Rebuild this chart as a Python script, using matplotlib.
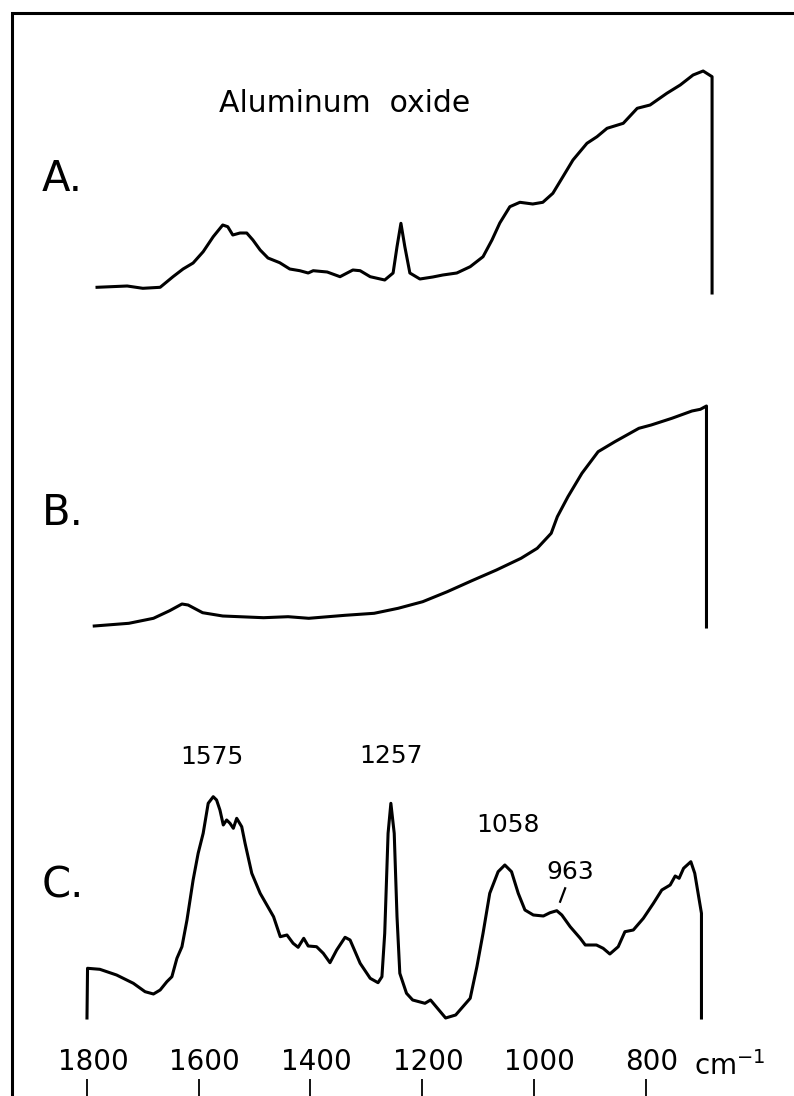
import matplotlib.pyplot as plt
from matplotlib.patches import Rectangle
from matplotlib.transforms import ScaledTranslation

# trace A: wavenumber (cm-1) and height (arbitrary units)
a_wn = [1782, 1728, 1700, 1669, 1646, 1628, 1610, 1592, 1574, 1557, 1548, 1539,
        1526, 1514, 1503, 1490, 1476, 1455, 1437, 1419, 1404, 1395, 1370, 1347,
        1324, 1311, 1293, 1267, 1252, 1245, 1238, 1231, 1222, 1204, 1181, 1163,
        1138, 1114, 1091, 1075, 1061, 1043, 1025, 1002, 984, 966, 948, 930, 905,
        887, 869, 840, 815, 792, 762, 738, 715, 697, 681, 681]
a_val = [5.7, 7, 4.7, 5.7, 16.3, 24, 30, 41.3, 56.3, 68, 66.3, 58,
         60, 60, 53, 43, 35, 30.3, 24, 22.3, 20, 22.3, 21, 16.3,
         23, 22.3, 16.3, 13, 20, 46.3, 69.7, 46.3, 20, 14, 16, 18,
         20, 26.3, 36.3, 53, 70, 86.3, 90.7, 89, 90.7, 99.7, 116.3, 133, 149.7,
         156.3, 164.7, 169.7, 184.7, 188, 199.7, 208, 218, 222, 216.3, 0]

# trace B
b_wn = [1787, 1725, 1681, 1652, 1630, 1619, 1593, 1557, 1484, 1440, 1403, 1338,
        1286, 1243, 1199, 1155, 1111, 1067, 1023, 994, 969, 958, 939, 914, 885,
        855, 812, 790, 753, 717, 702, 691, 691]
b_val = [1, 3.7, 8.7, 16.3, 23, 22, 14.3, 11, 9.3, 10.3, 8.7, 11.7,
         13.7, 18.7, 25.3, 35.3, 46.3, 57, 68.7, 78.7, 93.7, 110.3, 130.3, 153.7, 175.3,
         185.3, 198.7, 202, 208.7, 216, 217.7, 221, 0]

# trace C
c_wn = [1800, 1799, 1777, 1747, 1717, 1696, 1681, 1669, 1657, 1648, 1639, 1630,
        1621, 1610, 1601, 1592, 1583, 1574, 1568, 1562, 1556, 1550, 1544, 1538,
        1532, 1523, 1517, 1505, 1490, 1466, 1454, 1442, 1431, 1422, 1412, 1404,
        1389, 1377, 1365, 1353, 1338, 1329, 1311, 1293, 1279, 1272, 1267, 1261,
        1256, 1250, 1245, 1240, 1228, 1217, 1195, 1185, 1158, 1140, 1114, 1102,
        1091, 1079, 1064, 1052, 1040, 1028, 1016, 1001, 983, 971, 959, 950, 935,
        917, 908, 888, 876, 864, 849, 837, 822, 804, 786, 771, 756, 747, 740,
        732, 719, 712, 704, 700, 700]
c_val = [0, 49.7, 48.7, 43, 34.7, 26.3, 24, 28, 36.3, 41.3, 59.7, 71.3,
         98, 138, 164.7, 184.7, 214.7, 221.3, 218, 208, 193, 198, 194.7, 189.7,
         199.7, 191.3, 174.7, 144.7, 124.7, 101.3, 81.3, 83, 74.7, 70.7, 79.7, 72,
         71.3, 64.7, 55.3, 68, 80.7, 78, 54.7, 39.7, 35.3, 41.3, 84.7, 184.7,
         214.7, 184.7, 101.3, 44.7, 24.7, 18, 14.7, 18, 0, 3, 19.7, 51.3,
         84.7, 124.7, 146.3, 153, 146.3, 124.7, 108, 103, 102, 105.3, 107.3, 103, 91.3,
         79.7, 73, 73, 69.7, 64, 71.3, 86.3, 88, 99.7, 114.7, 128, 133, 142, 139.7,
         149.7, 156.3, 144.7, 118, 104.7, 0]

peak_labels = ["1575", "1257", "1058", "963"]
peak_wn = [1575, 1257, 1058, 963]

tick_wn = [1800, 1600, 1400, 1200, 1000, 800]
tick_labels = ["1800", "1600", "1400", "1200", "1000", "800"]

W, H = 794, 1096
fig = plt.figure(figsize=(W / 100, H / 100), dpi=100)
plt.rcParams["font.family"] = ["DejaVu Sans"]

XLIM = (1848.3, 595.2)
LW = 2.2


def px_axes(left, top, right, bottom):
    ax = fig.add_axes([left / W, 1 - bottom / H, (right - left) / W, (bottom - top) / H])
    ax.set_xlim(*XLIM)
    ax.set_ylim(0, bottom - top)
    for s in ax.spines.values():
        s.set_visible(False)
    ax.set_xticks([])
    ax.set_yticks([])
    ax.patch.set_alpha(0)
    return ax


ax_a = px_axes(60, 60, 760, 293)
ax_b = px_axes(60, 380, 760, 627)
ax_c = px_axes(60, 780, 760, 1018)

for ax, wn, val in [(ax_a, a_wn, a_val), (ax_b, b_wn, b_val), (ax_c, c_wn, c_val)]:
    ax.plot(wn, val, color="black", lw=LW, clip_on=False, solid_joinstyle="round")

# peak labels on trace C
offsets = {"1575": (1, 261), "1257": (-2, 262), "1058": (-12, 193), "963": (-28, 146)}
for lab, wn in zip(peak_labels, peak_wn):
    dx, y = offsets[lab]
    ax_c.text(wn + dx, y, lab, ha="center", va="center", fontsize=18)
ax_c.plot([944, 953], [129.7, 116.3], color="black", lw=1.6, clip_on=False)

# panel letters and title
for lab, base in [("A.", 191), ("B.", 525), ("C.", 897)]:
    fig.text(42 / W, 1 - base / H, lab, fontsize=30, va="baseline", ha="left")
fig.text(345 / W, 1 - 112 / H, "Aluminum  oxide", fontsize=21.5, ha="center", va="baseline")

# bottom scale: labels above short tick marks
ax_t = fig.add_axes([60 / W, 0, 700 / W, 17 / H])
ax_t.set_xlim(*XLIM)
for s in ax_t.spines.values():
    s.set_visible(False)
ax_t.set_yticks([])
ax_t.xaxis.set_ticks_position("top")
ax_t.set_xticks(tick_wn)
ax_t.set_xticklabels(tick_labels, fontsize=20)
ax_t.tick_params(axis="x", direction="in", length=16, width=1.3, pad=2)
ax_t.patch.set_alpha(0)
shift = ScaledTranslation(0.06, 0, fig.dpi_scale_trans)
for t in ax_t.get_xticklabels():
    t.set_transform(t.get_transform() + shift)
fig.text(694 / W, 1 - 1075 / H, "cm$^{-1}$", fontsize=20, ha="left", va="baseline")

# border around the figure (runs off the right and bottom edges)
fig.add_artist(Rectangle((12 / W, -0.1), 2, 1.1 - 13 / H, transform=fig.transFigure,
                         fill=False, lw=2.2, color="black"))

fig.savefig("out.png", dpi=100)
